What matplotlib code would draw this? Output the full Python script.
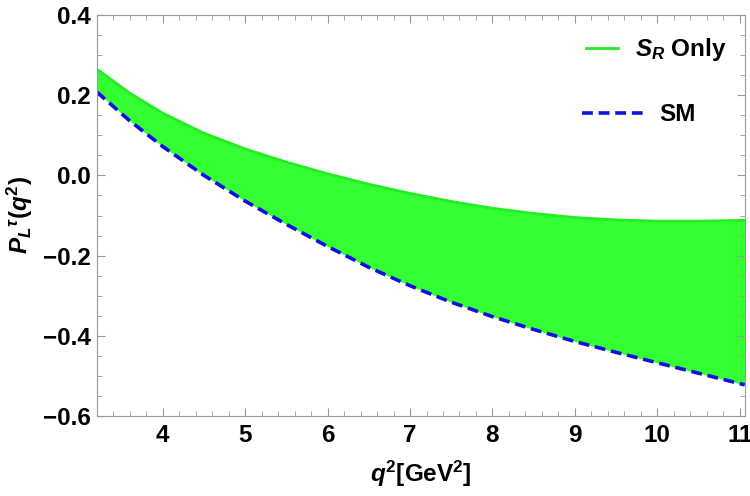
import numpy as np
import matplotlib
matplotlib.use("Agg")
import matplotlib.pyplot as plt
from matplotlib.ticker import MultipleLocator

plt.rcParams['font.family'] = ['Liberation Sans', 'DejaVu Sans']
plt.rcParams['font.weight'] = 'bold'
plt.rcParams['axes.labelweight'] = 'bold'
plt.rcParams['mathtext.fontset'] = 'custom'
plt.rcParams['mathtext.it'] = 'Liberation Sans:italic:bold'
plt.rcParams['mathtext.rm'] = 'Liberation Sans:bold'
plt.rcParams['mathtext.bf'] = 'Liberation Sans:bold'

# values
q2 = [3.2, 3.6, 4.0, 4.5, 5.0, 5.5, 6.0, 6.5, 7.0, 7.5, 8.0, 8.5, 9.0, 9.5, 10.0, 10.5, 11.06]
sr_upper = [0.265, 0.205, 0.155, 0.105, 0.066, 0.033, 0.004, -0.022, -0.045, -0.065, -0.082,
            -0.095, -0.105, -0.111, -0.114, -0.114, -0.112]
sm = [0.208, 0.136, 0.072, 0.000, -0.064, -0.122, -0.177, -0.229, -0.275, -0.316, -0.352,
      -0.384, -0.414, -0.441, -0.467, -0.493, -0.522]

q2 = np.array(q2)
sr_upper = np.array(sr_upper)
sm = np.array(sm)

fig = plt.figure(figsize=(7.5, 4.96), dpi=100)
ax = fig.add_axes([0.129, 0.161, 0.864, 0.809])

ax.fill_between(q2, sm, sr_upper, color='#33ff33', lw=0)
l1, = ax.plot(q2, sr_upper, color='#22ee22', lw=2)
l2, = ax.plot(q2, sm, color='#1010dd', lw=2.6, ls=(0, (3, 1.6)))

ax.set_xlim(3.2, 11.06)
ax.set_ylim(-0.6, 0.4)
ax.xaxis.set_major_locator(MultipleLocator(1))
ax.xaxis.set_minor_locator(MultipleLocator(0.2))
ax.yaxis.set_minor_locator(MultipleLocator(0.05))
ax.set_yticks([-0.6, -0.4, -0.2, 0.0, 0.2, 0.4])
ax.set_yticklabels(['\u22120.6', '\u22120.4', '\u22120.2', '0.0', '0.2', '0.4'])
ax.set_xticks(range(4, 12))

for s in ax.spines.values():
    s.set_color('#999999')
    s.set_linewidth(0.8)
ax.tick_params(which='both', direction='in', top=True, right=True, color='#999999',
               labelsize=17.5)
ax.tick_params(which='major', length=6, width=0.8)
ax.tick_params(axis='y', which='major', pad=4)
ax.tick_params(axis='x', which='major', pad=6)
ax.tick_params(which='minor', length=3.5, width=0.6)

ax.set_xlabel(r'$q^2$[GeV$^2$]', fontsize=17.5, fontweight='bold', labelpad=8)
ax.set_ylabel(r'$P_L{}^{\tau}(q^2)$', fontsize=17.5, fontweight='bold', labelpad=6)

# legend entries have different handle lengths in the reference, so two legends
leg1 = ax.legend([l1], [r'$S_R$ Only'], loc='center right', bbox_to_anchor=(0.972, 0.913),
                 frameon=False, fontsize=17.5, handlelength=1.3, handletextpad=0.7,
                 borderpad=0, borderaxespad=0)
ax.add_artist(leg1)
ax.legend([l2], ['SM'], loc='center right', bbox_to_anchor=(0.925, 0.751),
          frameon=False, fontsize=17.5, handlelength=2.5, handletextpad=0.7,
          borderpad=0, borderaxespad=0)

fig.savefig('out.png', dpi=100)
